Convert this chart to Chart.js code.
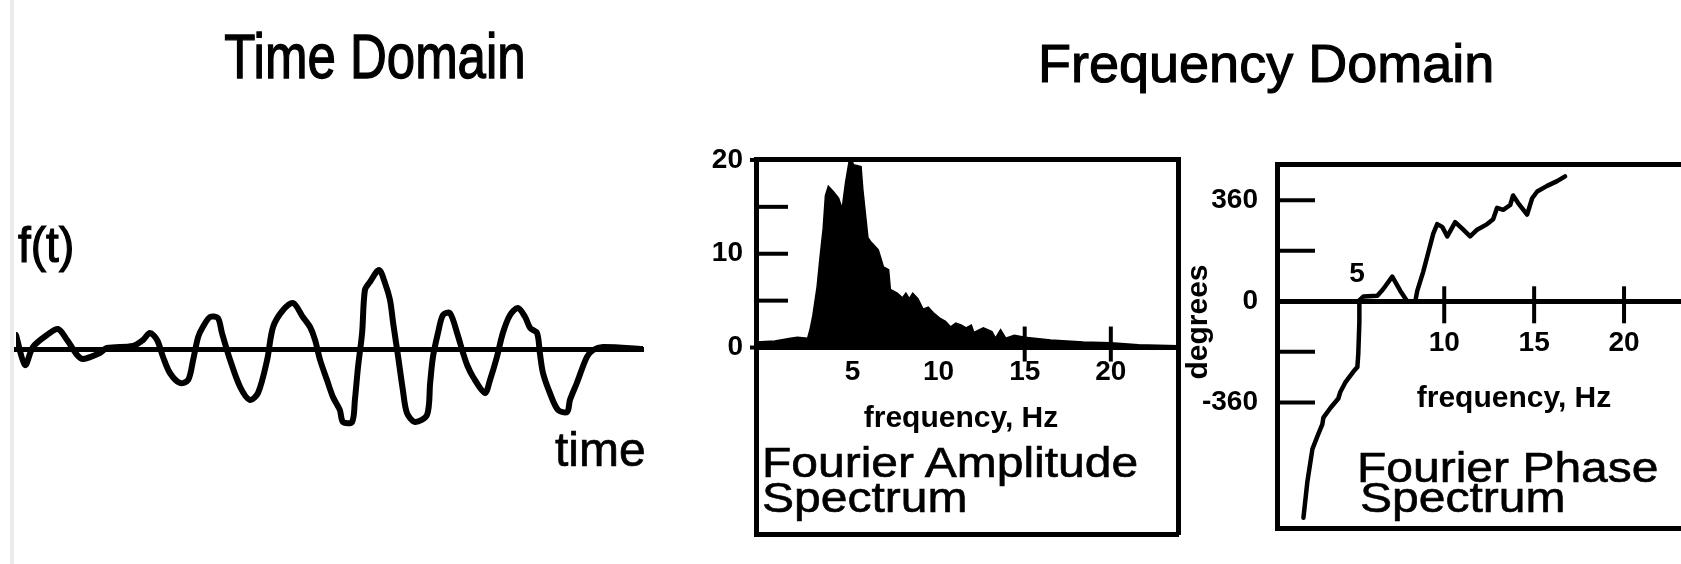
<!DOCTYPE html>
<html>
<head>
<meta charset="utf-8">
<script src="https://cdn.jsdelivr.net/npm/chart.js@4.4.1/dist/chart.umd.min.js"></script>
<style>
  html, body { margin: 0; padding: 0; background: #fff; overflow: hidden; }
  #page { position: relative; width: 1681px; height: 564px; overflow: hidden; }
  #edge { position: absolute; left: 10px; top: 0; width: 4px; height: 564px; background: #ebebeb; }
  canvas { position: absolute; top: 0; }
  .t { position: absolute; line-height: 1; white-space: nowrap; font-family: 'Liberation Sans', Arial, sans-serif; color: #000; }
  .heavy { -webkit-text-stroke: 1.1px #000; }
  .mid { -webkit-text-stroke: 0.7px #000; }
</style>
</head>
<body>
<div id="page">
  <div id="edge"></div>
  <canvas id="timeChart" width="680" height="564" style="left:0"></canvas>
  <canvas id="ampChart" width="510" height="564" style="left:680px"></canvas>
  <canvas id="phaseChart" width="569" height="564" style="left:1182px"></canvas>

  <div class="t heavy" style="left:175px;width:400px;text-align:center;top:34.8px;font-size:51px;transform:scaleY(1.23);transform-origin:50% 43.2px">Time Domain</div>
  <div class="t heavy" style="left:1038px;width:400px;text-align:center;top:36.3px;font-size:54px">Frequency Domain</div>

  <div class="t heavy" style="left:18px;top:223px;font-size:46px;transform:scaleY(1.1);transform-origin:0 39px">f(t)</div>
  <div class="t mid" style="left:555px;top:426.4px;font-size:48px">time</div>

  <div class="t" style="left:761px;width:400px;text-align:center;top:401.6px;font-size:30px;font-weight:bold">frequency, Hz</div>
  <div class="t mid" style="left:762px;top:437.4px;font-size:48px;transform:scaleY(0.9);transform-origin:0 40.6px">Fourier Amplitude</div>
  <div class="t mid" style="left:762px;top:472.4px;font-size:48px;transform:scaleY(0.9);transform-origin:0 40.6px">Spectrum</div>

  <div class="t" style="left:1127px;width:140px;text-align:center;top:307px;font-size:30px;font-weight:bold;transform:rotate(-90deg)">degrees</div>
  <div class="t" style="left:1337px;width:40px;text-align:center;top:259.3px;font-size:28px;font-weight:bold">5</div>
  <div class="t" style="left:1314px;width:400px;text-align:center;top:381.6px;font-size:30px;font-weight:bold">frequency, Hz</div>
  <div class="t mid" style="left:1357px;top:442.4px;font-size:48px;transform:scaleY(0.9);transform-origin:0 40.6px">Fourier Phase</div>
  <div class="t mid" style="left:1360px;top:472.4px;font-size:48px;transform:scaleY(0.9);transform-origin:0 40.6px">Spectrum</div>
</div>

<script>
Chart.defaults.font.family = "'Liberation Sans', Arial, sans-serif";
Chart.defaults.color = '#000';

// time domain record (time in s, amplitude arbitrary)
const timeSec = [0, 0.29, 0.54, 0.99, 1.34, 1.63, 1.95, 2.14, 2.68, 2.90,
  3.73, 4.05, 4.27, 4.50, 4.69, 4.91, 5.23, 5.49, 5.65, 5.81,
  5.96, 6.19, 6.44, 6.57, 6.83, 7.15, 7.46, 7.72, 8.01, 8.20,
  8.52, 8.84, 9.15, 9.38, 9.54, 9.70, 9.92, 10.11, 10.33, 10.43,
  10.72, 10.81, 10.91, 11.04, 11.13, 11.29, 11.58, 11.77, 11.93, 12.03,
  12.19, 12.34, 12.47, 12.73, 13.11, 13.21, 13.30, 13.46, 13.62, 13.84,
  14.07, 14.26, 14.39, 14.58, 14.96, 15.12, 15.34, 15.53, 15.76, 16.01,
  16.24, 16.40, 16.62, 16.71, 16.81, 17.03, 17.29, 17.58, 17.67, 17.89,
  18.21, 18.41, 18.72, 20.0];
const timeAmp = [14, -16, 2, 14, 20, 9, -6, -10, -4, 1,
  3, 9, 16, 9, -8, -24, -34, -31, -11, 12,
  22, 32, 31, 16, -11, -38, -51, -44, -11, 22,
  39, 46, 32, 22, 9, -11, -31, -48, -61, -73,
  -73, -51, -18, 16, 59, 67, 79, 66, 49, 26,
  -8, -41, -64, -73, -66, -34, -8, 16, 34, 36,
  16, -4, -16, -28, -44, -31, -8, 16, 34, 41,
  32, 21, 16, -4, -24, -44, -61, -63, -51, -34,
  -8, -1, 2, 0];

// fourier amplitude spectrum
const ampFreq = [-0.6, 0.5, 1.4, 1.8, 2.4, 2.56, 2.7, 2.95, 3.1, 3.3,
  3.43, 3.6, 3.9, 4.2, 4.4, 4.6, 4.8, 4.95, 5.06, 5.5,
  5.6, 5.9, 6.05, 6.2, 6.5, 6.8, 7.1, 7.2, 7.6, 7.9,
  8.1, 8.3, 8.5, 8.8, 9.1, 9.4, 9.7, 10.1, 10.4, 10.7,
  11.0, 11.3, 11.6, 11.9, 12.05, 12.6, 13.1, 13.3, 13.6, 13.9,
  14.4, 15.0, 16.5, 18.4, 20.0, 21.6, 23.9];
const ampValue = [0.6, 0.7, 1.0, 1.1, 1.0, 2.1, 3.4, 6.5, 9.3, 12.7,
  16.2, 17.2, 16.6, 15.9, 14.8, 17.6, 19.8, 20.0, 19.5, 19.3,
  16.9, 11.7, 11.3, 11.0, 10.4, 8.6, 8.3, 6.2, 5.8, 5.3,
  5.8, 5.2, 5.8, 5.2, 4.1, 4.3, 3.7, 3.1, 2.8, 2.2,
  2.6, 2.4, 2.1, 2.4, 1.6, 2.1, 1.7, 1.0, 1.9, 1.0,
  1.3, 1.1, 0.8, 0.6, 0.5, 0.3, 0.2];
const ampXTicks = [5, 10, 15, 20];
const ampYTicks = [0, 10, 20];
const ampYMarks = [5, 10, 15];
const ampYStubs = [0, 20];
const ampXMarks = [15, 20];

// fourier phase spectrum
const phaseFreq = [2.17, 2.39, 2.67, 3.0, 3.22, 3.28, 3.67, 4.11, 4.22, 4.5,
  4.94, 5.17, 5.22, 5.28, 5.28, 5.5, 6.28, 6.61, 7.11, 7.56,
  7.94, 8.39, 8.5, 8.83, 9.11, 9.39, 9.61, 9.89, 10.17, 10.61,
  11.06, 11.44, 11.83, 12.39, 12.72, 12.94, 13.28, 13.67, 13.83, 14.11,
  14.61, 14.89, 15.17, 15.72, 16.28, 16.72];
const phaseDeg = [-771, -642, -526, -472, -438, -414, -380, -346, -323, -289,
  -251, -234, -187, -75, 3, 17, 20, 44, 88, 37,
  0, 0, 37, 105, 173, 241, 275, 265, 231, 282,
  255, 231, 255, 275, 292, 333, 326, 343, 377, 350,
  309, 367, 391, 411, 428, 445];
const phaseXTicks = [10, 15, 20];
const phaseYTicks = [-360, 0, 360];
const phaseYMarks = [-360, -180, 180, 360];
const phaseXMarks = [10, 15, 20];

function toPoints(xs, ys) {
  return xs.map((x, i) => ({ x: x, y: ys[i] }));
}

function fixedTicks(values) {
  return scale => { scale.ticks = values.map(v => ({ value: v })); };
}

function borderOnly(position, size) {
  return {
    type: 'linear',
    position: position,
    ticks: { display: false },
    grid: { display: false, drawTicks: false },
    border: { display: true, width: 5, color: '#000' },
    afterFit: s => { if (s.isHorizontal()) s.height = size; else s.width = size; }
  };
}

// tick marks on the axes, placed with the chart's own scales
const tickMarks = {
  id: 'tickMarks',
  afterDatasetsDraw(chart, args, opts) {
    const ctx = chart.ctx;
    const left = chart.chartArea.left;
    const y0 = chart.scales.y.getPixelForValue(0);
    ctx.save();
    ctx.strokeStyle = '#000';
    ctx.lineWidth = 4;
    (opts.y || []).forEach(m => {
      m.values.forEach(v => {
        const py = chart.scales.y.getPixelForValue(v);
        ctx.beginPath();
        ctx.moveTo(left - m.outside, py);
        ctx.lineTo(left + m.inside, py);
        ctx.stroke();
      });
    });
    (opts.x || []).forEach(m => {
      m.values.forEach(v => {
        const px = chart.scales.x.getPixelForValue(v);
        ctx.beginPath();
        ctx.moveTo(px, y0 - m.up);
        ctx.lineTo(px, y0 + m.down);
        ctx.stroke();
      });
    });
    ctx.restore();
  }
};

const tickFont = { size: 28, weight: 'bold' };

new Chart(document.getElementById('timeChart'), {
  type: 'line',
  data: {
    datasets: [{
      data: toPoints(timeSec, timeAmp),
      borderColor: '#000',
      borderWidth: 6,
      borderJoinStyle: 'round',
      borderCapStyle: 'round',
      pointRadius: 0,
      tension: 0.3,
      fill: false
    }]
  },
  options: {
    responsive: false,
    animation: false,
    layout: { padding: { left: 16, right: 37, top: 259, bottom: 125 } },
    plugins: { legend: { display: false }, tooltip: { enabled: false } },
    scales: {
      x: {
        type: 'linear', min: 0, max: 20, position: { y: 0 },
        ticks: { display: false },
        grid: { display: false, drawTicks: false },
        border: { width: 5, color: '#000' }
      },
      y: { type: 'linear', min: -90, max: 90, display: false }
    }
  }
});

new Chart(document.getElementById('ampChart'), {
  type: 'line',
  data: {
    datasets: [{
      data: toPoints(ampFreq, ampValue),
      borderColor: '#000',
      backgroundColor: '#000',
      borderWidth: 1.5,
      pointRadius: 0,
      tension: 0,
      fill: 'origin'
    }]
  },
  plugins: [tickMarks],
  options: {
    responsive: false,
    animation: false,
    layout: { padding: { left: 0, right: 12, top: 159, bottom: 19 } },
    plugins: {
      legend: { display: false },
      tooltip: { enabled: false },
      tickMarks: {
        y: [{ values: ampYMarks, inside: 32, outside: 0 }, { values: ampYStubs, inside: 0, outside: 6 }],
        x: [{ values: ampXMarks, up: 21, down: 14 }]
      }
    },
    scales: {
      x: {
        type: 'linear', min: -0.6, max: 23.9, position: { y: 0 },
        afterBuildTicks: fixedTicks(ampXTicks),
        ticks: { font: tickFont, padding: 8, maxRotation: 0, autoSkip: false },
        grid: { display: false, drawTicks: false },
        border: { width: 5, color: '#000' }
      },
      xTop: borderOnly('top', 0),
      xBottom: borderOnly('bottom', 0),
      y: {
        type: 'linear', position: 'left', min: -19.9, max: 20.1,
        afterBuildTicks: fixedTicks(ampYTicks),
        afterFit: s => { s.width = 76; },
        ticks: { font: tickFont, padding: 13 },
        grid: { display: false, drawTicks: false },
        border: { width: 5, color: '#000' }
      },
      yRight: borderOnly('right', 0)
    }
  }
});

new Chart(document.getElementById('phaseChart'), {
  type: 'line',
  data: {
    datasets: [{
      data: toPoints(phaseFreq, phaseDeg),
      borderColor: '#000',
      borderWidth: 4.5,
      borderJoinStyle: 'round',
      borderCapStyle: 'round',
      pointRadius: 0,
      tension: 0,
      fill: false
    }]
  },
  plugins: [tickMarks],
  options: {
    responsive: false,
    animation: false,
    layout: { padding: { left: 0, right: 0, top: 164, bottom: 18 } },
    plugins: {
      legend: { display: false },
      tooltip: { enabled: false },
      tickMarks: {
        y: [{ values: phaseYMarks, inside: 38, outside: 0 }],
        x: [{ values: phaseXMarks, up: 15, down: 22 }]
      }
    },
    scales: {
      x: {
        type: 'linear', min: 0.7, max: 27.06, position: { y: 0 },
        afterBuildTicks: fixedTicks(phaseXTicks),
        ticks: { font: tickFont, padding: 25, maxRotation: 0, autoSkip: false },
        grid: { display: false, drawTicks: false },
        border: { width: 5, color: '#000' }
      },
      xTop: borderOnly('top', 0),
      xBottom: borderOnly('bottom', 0),
      y: {
        type: 'linear', position: 'left', min: -808, max: 489,
        afterBuildTicks: fixedTicks(phaseYTicks),
        afterFit: s => { s.width = 95; },
        ticks: { font: tickFont, padding: 19 },
        grid: { display: false, drawTicks: false },
        border: { width: 5, color: '#000' }
      }
    }
  }
});
</script>
</body>
</html>
